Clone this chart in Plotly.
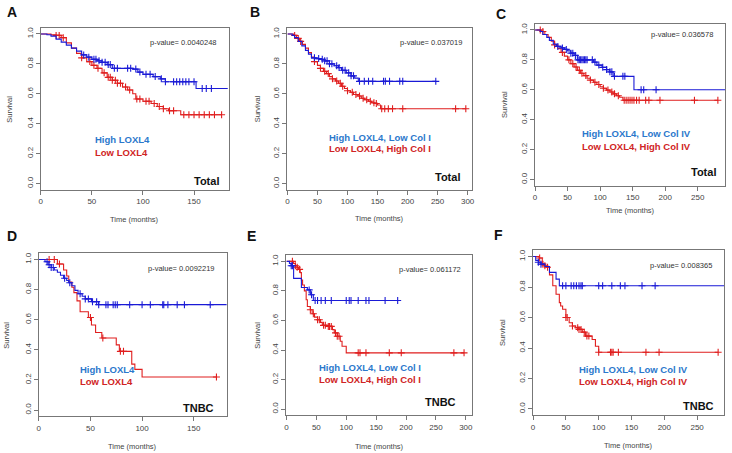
import plotly.graph_objects as go

W, H = 732, 453

# ---------------- data ----------------
# Panel A: High/Low LOXL4, Total
A_hi_t = [0, 6, 10, 15, 20, 25, 30, 35, 40, 45, 50, 55, 60, 65, 70, 90, 95, 100, 110, 117, 122, 152, 183]
A_hi_s = [1.0, 0.995, 0.985, 0.965, 0.945, 0.925, 0.905, 0.885, 0.86, 0.845, 0.83, 0.82, 0.81, 0.795, 0.77, 0.765, 0.745, 0.73, 0.715, 0.70, 0.68, 0.635, 0.635]
A_hi_c = [42, 47, 52, 54, 57, 60, 63, 66, 68, 72, 75, 85, 88, 93, 97, 103, 107, 112, 118, 122, 130, 133, 136, 139, 142, 145, 150, 158, 162, 167]
A_lo_t = [0, 10, 15, 20, 25, 30, 35, 40, 45, 50, 55, 60, 65, 70, 75, 80, 85, 90, 93, 100, 108, 114, 120, 125, 137, 177]
A_lo_s = [1.0, 0.995, 0.99, 0.975, 0.94, 0.905, 0.87, 0.84, 0.815, 0.79, 0.77, 0.74, 0.71, 0.69, 0.67, 0.645, 0.625, 0.60, 0.565, 0.55, 0.535, 0.515, 0.50, 0.487, 0.46, 0.46]
A_lo_c = [15, 18, 22, 40, 48, 52, 56, 62, 66, 68, 70, 73, 75, 78, 83, 87, 94, 97, 103, 106, 111, 116, 120, 126, 130, 140, 145, 150, 155, 160, 165, 170, 177]

# Panel B: Col I, Total
B_hi_t = [0, 8, 12, 18, 24, 30, 35, 40, 48, 55, 62, 70, 78, 85, 90, 98, 106, 112, 118, 247]
B_hi_s = [1.0, 0.99, 0.975, 0.95, 0.92, 0.89, 0.865, 0.84, 0.835, 0.83, 0.82, 0.80, 0.787, 0.775, 0.757, 0.74, 0.72, 0.705, 0.683, 0.683]
B_hi_c = [45, 52, 58, 62, 66, 70, 74, 82, 86, 92, 96, 102, 106, 110, 120, 128, 135, 142, 160, 163, 170, 187, 192, 247]
B_lo_t = [0, 10, 15, 20, 25, 30, 35, 40, 45, 50, 55, 60, 65, 70, 75, 80, 85, 90, 95, 100, 105, 110, 117, 123, 128, 135, 140, 145, 150, 155, 297]
B_lo_s = [1.0, 0.99, 0.97, 0.95, 0.93, 0.905, 0.875, 0.845, 0.815, 0.79, 0.77, 0.75, 0.735, 0.715, 0.70, 0.685, 0.67, 0.65, 0.635, 0.62, 0.61, 0.595, 0.585, 0.57, 0.56, 0.55, 0.54, 0.535, 0.525, 0.50, 0.50]
B_lo_c = [12, 18, 22, 45, 55, 62, 68, 75, 82, 88, 92, 100, 108, 114, 120, 126, 132, 138, 144, 148, 157, 162, 168, 175, 192, 280, 297]

# Panel C: Col IV, Total
C_hi_t = [0, 8, 12, 18, 22, 28, 33, 40, 45, 50, 55, 60, 65, 90, 95, 103, 110, 115, 120, 152, 292]
C_hi_s = [1.0, 0.99, 0.97, 0.95, 0.93, 0.905, 0.89, 0.88, 0.87, 0.86, 0.845, 0.83, 0.80, 0.785, 0.765, 0.75, 0.735, 0.72, 0.69, 0.60, 0.60]
C_hi_c = [35, 42, 48, 55, 58, 62, 66, 68, 70, 72, 74, 76, 78, 80, 88, 92, 98, 104, 110, 115, 118, 122, 135, 138, 163, 167, 186]
C_lo_t = [0, 10, 15, 20, 25, 30, 35, 40, 45, 50, 55, 60, 65, 70, 75, 80, 85, 90, 95, 100, 105, 110, 115, 120, 125, 130, 135, 281]
C_lo_s = [1.0, 0.99, 0.97, 0.95, 0.925, 0.9, 0.875, 0.85, 0.825, 0.80, 0.775, 0.752, 0.73, 0.711, 0.695, 0.677, 0.665, 0.65, 0.635, 0.62, 0.61, 0.598, 0.585, 0.573, 0.56, 0.55, 0.53, 0.53]
C_lo_c = [8, 12, 30, 42, 52, 58, 63, 68, 72, 78, 85, 92, 98, 105, 112, 118, 122, 128, 137, 140, 143, 146, 149, 152, 156, 160, 170, 175, 192, 245, 281]

# Panel D: High/Low LOXL4, TNBC
D_hi_t = [0, 6, 9, 12, 15, 18, 21, 24, 27, 29, 32, 35, 38, 42, 45, 51, 58, 182]
D_hi_s = [1.0, 0.985, 0.965, 0.947, 0.93, 0.915, 0.895, 0.875, 0.86, 0.845, 0.825, 0.795, 0.772, 0.756, 0.738, 0.72, 0.70, 0.70]
D_hi_c = [8, 10, 12, 14, 25, 30, 40, 45, 48, 52, 56, 58, 65, 67, 72, 74, 76, 88, 100, 108, 120, 121, 125, 134, 141, 166]
D_lo_t = [0, 18, 24, 27, 29, 32, 34, 37, 40, 48, 51, 55, 61, 75, 78, 90, 93, 100, 172]
D_lo_s = [1.0, 0.97, 0.93, 0.89, 0.85, 0.815, 0.78, 0.725, 0.653, 0.615, 0.565, 0.515, 0.478, 0.433, 0.39, 0.305, 0.27, 0.22, 0.22]
D_lo_c = [10, 15, 20, 50, 62, 79, 82, 172]

# Panel E: Col I, TNBC
E_hi_t = [0, 5, 8, 12, 25, 35, 40, 45, 186]
E_hi_s = [1.0, 0.985, 0.97, 0.885, 0.823, 0.807, 0.774, 0.735, 0.735]
E_hi_c = [8, 10, 38, 42, 48, 52, 58, 65, 75, 100, 105, 108, 120, 133, 138, 165, 186]
E_lo_t = [0, 12, 15, 18, 20, 23, 25, 27, 30, 33, 35, 40, 43, 47, 52, 57, 60, 68, 77, 80, 85, 90, 93, 100, 297]
E_lo_s = [1.0, 0.985, 0.97, 0.96, 0.946, 0.924, 0.874, 0.84, 0.80, 0.74, 0.695, 0.673, 0.646, 0.623, 0.605, 0.587, 0.567, 0.56, 0.538, 0.516, 0.493, 0.46, 0.426, 0.381, 0.381]
E_lo_c = [10, 15, 18, 22, 40, 45, 52, 55, 62, 65, 70, 72, 75, 82, 85, 88, 120, 123, 133, 172, 192, 280, 297]

# Panel F: Col IV, TNBC
F_hi_t = [0, 4, 8, 12, 18, 25, 35, 40, 291]
F_hi_s = [1.0, 0.975, 0.963, 0.95, 0.935, 0.896, 0.852, 0.808, 0.808]
F_hi_c = [8, 12, 45, 50, 58, 62, 66, 70, 73, 75, 100, 106, 120, 133, 140, 166, 186]
F_lo_t = [0, 9, 14, 17, 20, 25, 30, 35, 40, 42, 45, 50, 55, 60, 65, 70, 75, 80, 90, 95, 100, 282]
F_lo_s = [1.0, 0.99, 0.95, 0.94, 0.93, 0.88, 0.808, 0.753, 0.698, 0.676, 0.654, 0.60, 0.566, 0.544, 0.533, 0.522, 0.504, 0.478, 0.456, 0.412, 0.372, 0.372]
F_lo_c = [10, 15, 18, 22, 50, 52, 60, 68, 70, 73, 78, 82, 85, 100, 118, 120, 122, 130, 172, 192, 282]

panel_letters = ["A", "B", "C", "D", "E", "F"]
p_values = ["p-value= 0.0040248", "p-value= 0.037019", "p-value= 0.036578",
            "p-value= 0.0092219", "p-value= 0.061172", "p-value= 0.008365"]
hi_labels = ["High LOXL4", "High LOXL4, Low Col I", "High LOXL4, Low Col IV",
             "High LOXL4", "High LOXL4, Low Col I", "High LOXL4, Low Col IV"]
lo_labels = ["Low LOXL4", "Low LOXL4, High Col I", "Low LOXL4, High Col IV",
             "Low LOXL4", "Low LOXL4, High Col I", "Low LOXL4, High Col IV"]
groups = ["Total", "Total", "Total", "TNBC", "TNBC", "TNBC"]
x_max = [184, 308, 292, 182, 311, 291]
x_tick_max = [150, 300, 250, 150, 300, 250]
y_ticks = [0.0, 0.2, 0.4, 0.6, 0.8, 1.0]

series = [
    (A_hi_t, A_hi_s, A_hi_c, A_lo_t, A_lo_s, A_lo_c),
    (B_hi_t, B_hi_s, B_hi_c, B_lo_t, B_lo_s, B_lo_c),
    (C_hi_t, C_hi_s, C_hi_c, C_lo_t, C_lo_s, C_lo_c),
    (D_hi_t, D_hi_s, D_hi_c, D_lo_t, D_lo_s, D_lo_c),
    (E_hi_t, E_hi_s, E_hi_c, E_lo_t, E_lo_s, E_lo_c),
    (F_hi_t, F_hi_s, F_hi_c, F_lo_t, F_lo_s, F_lo_c),
]

# ---------------- layout geometry (pixels) ----------------
boxes = [  # x0, x1, ytop, ybottom
    (39, 228, 27, 189), (287, 473, 27, 189), (536, 727, 23, 185),
    (37, 226, 253, 416), (286, 473, 255, 415), (534, 726, 250, 415),
]
letter_pos = [(3, 11), (247, 11), (495, 13), (3, 236), (244, 236), (493, 235)]
pval_pos = [(218, 42), (465, 42), (717, 34), (216, 268), (464, 269), (716, 265)]
leg_pos = [(92, 139, 152), (327, 137, 148), (581, 133, 146),
           (76, 369, 381), (317, 367, 379), (578, 369, 381)]
grp_pos = [(220, 180), (463, 176), (720, 171), (215, 408), (459, 402), (718, 406)]
ylab_x = [8, 257, 506, 5, 257, 504]
xlab_y = [219, 218, 210, 446, 446, 445]

LINE_BLUE = "#1a1ad6"
LINE_RED = "#e01e1e"
TXT_BLUE = "#2b78cc"
TXT_RED = "#d02424"
FONT = "Liberation Sans, Arial, sans-serif"


def px(x):
    return x / W


def py(y):
    return 1 - y / H


def step_value(ts, ss, tc):
    v = ss[0]
    for t, s in zip(ts, ss):
        if t <= tc:
            v = s
    return v


def note(x, y, text, size, color, xanchor="center", angle=0):
    return dict(x=px(x), y=py(y), xref="paper", yref="paper", text=text, showarrow=False,
                xanchor=xanchor, yanchor="middle", textangle=angle,
                font=dict(family=FONT, size=size, color=color))


fig = go.Figure()
annotations = []
layout_axes = {}

for i in range(6):
    hi_t, hi_s, hi_c, lo_t, lo_s, lo_c = series[i]
    xa = "x" if i == 0 else f"x{i+1}"
    ya = "y" if i == 0 else f"y{i+1}"
    for ts, ss, cs, col in ((lo_t, lo_s, lo_c, LINE_RED), (hi_t, hi_s, hi_c, LINE_BLUE)):
        fig.add_trace(go.Scatter(x=ts, y=ss, mode="lines", line=dict(color=col, width=1.1, shape="hv"),
                                 xaxis=xa, yaxis=ya, showlegend=False, hoverinfo="skip"))
        fig.add_trace(go.Scatter(x=cs, y=[step_value(ts, ss, c) for c in cs], mode="markers",
                                 marker=dict(symbol="cross-thin", size=5, line=dict(color=col, width=1.1)),
                                 xaxis=xa, yaxis=ya, showlegend=False, hoverinfo="skip"))
    x0, x1, yt, yb = boxes[i]
    axis_common = dict(showline=True, mirror=True, linecolor="#777", linewidth=1,
                       ticks="outside", ticklen=4, tickcolor="#777", showgrid=False, zeroline=False,
                       tickfont=dict(family=FONT, size=8, color="#444"))
    layout_axes["xaxis" if i == 0 else f"xaxis{i+1}"] = dict(
        domain=[px(x0), px(x1)], range=[0, x_max[i]], anchor=ya,
        tickvals=list(range(0, x_tick_max[i] + 1, 50)), **axis_common)
    layout_axes["yaxis" if i == 0 else f"yaxis{i+1}"] = dict(
        domain=[py(yb), py(yt)], range=[-0.04, 1.04], anchor=xa,
        tickvals=y_ticks, tickformat=".1f", tickangle=-90, **axis_common)

    lx, lyy = letter_pos[i]
    annotations.append(note(lx, lyy, f"<b>{panel_letters[i]}</b>", 14, "#111", "left"))
    pxv, pyv = pval_pos[i]
    annotations.append(note(pxv, pyv, p_values[i], 7.5, "#333", "right"))
    gx, gy1, gy2 = leg_pos[i]
    annotations.append(note(gx, gy1, f"<b>{hi_labels[i]}</b>", 9.5, TXT_BLUE, "left"))
    annotations.append(note(gx, gy2, f"<b>{lo_labels[i]}</b>", 9.5, TXT_RED, "left"))
    tx, ty = grp_pos[i]
    annotations.append(note(tx, ty, f"<b>{groups[i]}</b>", 11, "#111", "right"))
    annotations.append(note(ylab_x[i], (yt + yb) / 2, "Survival", 7.5, "#444", "center", -90))
    annotations.append(note((x0 + x1) / 2, xlab_y[i], "Time (months)", 7.5, "#444", "center"))

fig.update_layout(width=W, height=H, margin=dict(l=0, r=0, t=0, b=0),
                  paper_bgcolor="white", plot_bgcolor="white",
                  annotations=annotations, **layout_axes)

fig.write_html("out.html")
